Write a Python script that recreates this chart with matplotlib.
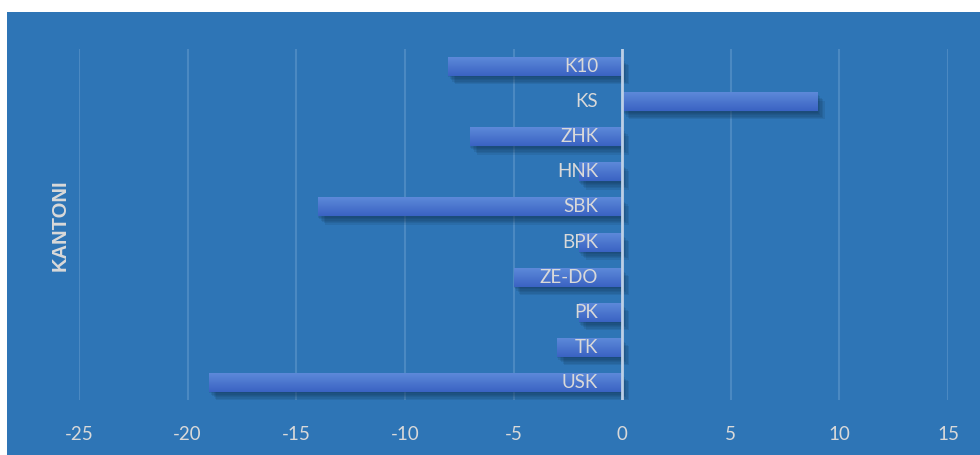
import numpy as np
import matplotlib
matplotlib.use("Agg")
import matplotlib.pyplot as plt
from matplotlib.patches import Rectangle
from matplotlib import patheffects as pe
from matplotlib.colors import LinearSegmentedColormap

# data (top to bottom as shown)
kantoni = ["K10", "KS", "ZHK", "HNK", "SBK", "BPK", "ZE-DO", "PK", "TK", "USK"]
vrijednosti = [-8, 9, -7, -2, -14, -2, -5, -2, -3, -19]
x_ticks = [-25, -20, -15, -10, -5, 0, 5, 10, 15]

BG = "#2E75B6"
TXT = "#D9D9D9"
GRID = "#4B89C2"

plt.rcParams['font.family'] = ['Lato', 'DejaVu Sans']

fig = plt.figure(figsize=(9.8, 4.55), dpi=100)
fig.patch.set_facecolor("white")
fig.patches.append(Rectangle((7 / 980, 0), 1, 443 / 455, transform=fig.transFigure,
                             facecolor=BG, edgecolor="none", zorder=-10))

ax = fig.add_axes([79 / 980, 1 - 400 / 455, (948 - 79) / 980, 351 / 455])
ax.set_facecolor(BG)
for s in ax.spines.values():
    s.set_visible(False)

y = np.arange(len(kantoni))

for t in x_ticks:
    ax.axvline(t, color=GRID, lw=1.5, zorder=0)

# soft shadow: a few faint layers
shadow = [pe.SimplePatchShadow(offset=o, shadow_rgbFace="#10304F", alpha=0.13)
          for o in [(0, -1), (1, -2), (2, -3), (3, -4), (4, -5), (5, -6)]]

cmap = LinearSegmentedColormap.from_list("bar", ["#5D89D9", "#3A63C3"])
grad = np.linspace(0, 1, 64).reshape(-1, 1)
bars = ax.barh(y, vrijednosti, height=0.54, color="#4472C4", zorder=2,
               path_effects=shadow + [pe.Normal()])
for b in bars:
    x0, y0, w, h = b.get_x(), b.get_y(), b.get_width(), b.get_height()
    im = ax.imshow(grad, cmap=cmap, aspect="auto", zorder=3,
                   extent=[x0, x0 + w, y0 + h, y0], interpolation="bicubic")
    im.set_clip_path(b)
ax.set_xlim(-25, 15)
ax.set_ylim(len(kantoni) - 0.5, -0.5)

# zero line
ax.axvline(0, color="#BCCFE6", lw=2, zorder=4)

for yi, lab in zip(y, kantoni):
    ax.annotate(lab, (0, yi), xytext=(-24, 0), textcoords="offset pixels",
                ha="right", va="center", color=TXT, fontsize=13.5, zorder=5)

ax.set_yticks([])
ax.set_xticks(x_ticks)
ax.set_xticklabels([str(t) for t in x_ticks])
ax.tick_params(axis="x", length=0, pad=19, labelcolor=TXT, labelsize=13.5)

fig.text(60 / 980, 1 - 225 / 455, "KANTONI", rotation=90, ha="center", va="center",
         color=TXT, fontsize=14.5, fontweight="bold", family=["Liberation Sans", "DejaVu Sans"])

fig.savefig("out.png", dpi=100)
